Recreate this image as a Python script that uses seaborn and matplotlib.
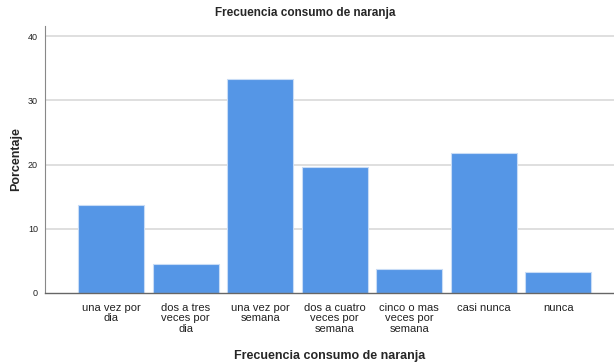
import matplotlib
matplotlib.use("Agg")
import matplotlib.pyplot as plt
import seaborn as sns
import pandas as pd

categories = ["una vez por\ndia", "dos a tres\nveces por\ndia", "una vez por\nsemana",
              "dos a cuatro\nveces por\nsemana", "cinco o mas\nveces por\nsemana",
              "casi nunca", "nunca"]
values = [13.7, 4.45, 33.3, 19.6, 3.7, 21.8, 3.3]
yticks = [0, 10, 20, 30, 40]

sns.set_style("white")
plt.rcParams['font.family'] = ['Liberation Sans', 'DejaVu Sans']

df = pd.DataFrame({"cat": categories, "val": values})

fig = plt.figure(figsize=(6.14, 3.62), dpi=100)
ax = fig.add_axes([45/614, 1-293/362, 1-45/614, (293-26)/362])
ax.set_axisbelow(True)
for t in yticks[1:]:
    ax.axhline(t, color="#d9d9d9", lw=1.2, zorder=0)
sns.barplot(data=df, x="cat", y="val", color="#5596E6", saturation=1,
            width=0.89, edgecolor="#c8dcf6", linewidth=0.8, ax=ax, zorder=2)
ax.set_ylim(0, 41.6)
ax.set_xlim(-0.89, 6.75)
ax.set_yticks(yticks)
ax.tick_params(axis="x", length=0, labelsize=8, colors="#222222", pad=7)
ax.tick_params(axis="y", length=0, labelsize=6.5, colors="#222222", pad=5)
for lab in ax.get_xticklabels():
    lab.set_linespacing(1.05)
for s in ["top", "right"]:
    ax.spines[s].set_visible(False)
ax.spines["left"].set_color("#888888")
ax.spines["bottom"].set_color("#666666")
ax.spines["left"].set_linewidth(0.8)
ax.spines["bottom"].set_linewidth(1.0)
ax.set_xlabel("Frecuencia consumo de naranja", fontsize=9, fontweight="bold", labelpad=12)
ax.set_ylabel("Porcentaje", fontsize=9, fontweight="bold", labelpad=4)
fig.text(305/614, 1-13/362, "Frecuencia consumo de naranja", ha="center", va="center",
         fontsize=8.5, fontweight="bold")
fig.savefig("out.png", dpi=100)
